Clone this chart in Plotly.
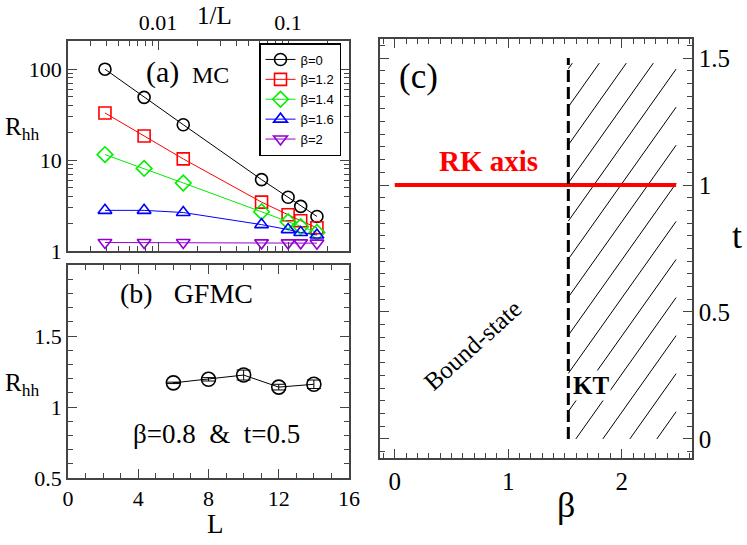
import numpy as np
import plotly.graph_objects as go

# panel (a): MC results, R_hh against 1/L for several beta
L_MC = [256, 128, 64, 16, 10, 8, 6]
BETA_NAMES = ['β=0', 'β=1.2', 'β=1.4', 'β=1.6', 'β=2']
R_BETA0 = [100, 49, 24.5, 6.1, 3.9, 3.1, 2.4]
R_BETA12 = [33, 18.4, 10.3, 3.45, 2.5, 2.15, 1.8]
R_BETA14 = [11.5, 8.1, 5.6, 2.7, 2.1, 1.85, 1.6]
R_BETA16 = [2.8, 2.8, 2.65, 1.95, 1.72, 1.6, 1.5]
R_BETA2 = [1.24, 1.24, 1.24, 1.23, 1.23, 1.23, 1.22]

# panel (b): GFMC at beta=0.8, t=0.5
L_GF = [6, 8, 10, 12, 14]
R_GF = [1.17, 1.195, 1.225, 1.14, 1.16]
R_GF_ERR = [0.005, 0.012, 0.035, 0.02, 0.03]

# panel (c): phase diagram
KT_BETA = 1.53          # KT transition line
KT_T = [0, 1.5]
RK_BETA = [0, 2.48]     # RK axis at t=1
RK_T = 1.0
# hatched KT region
HATCH_BETA_MAX = 2.48
HATCH_T_MAX = 1.48
HATCH_SLOPE = 0.63
HATCH_FIRST = 1.12
HATCH_STEP = 0.238

SERIF = 'Liberation Serif'
SANS = 'Liberation Sans'
FRAME = '#444444'

W, H = 747, 545

def fx(px):
  return px / W

def fy(px):
  return 1 - px / H

styles = [('black', 'circle-open'), ('red', 'square-open'), ('#00ee00', 'diamond-open'),
          ('blue', 'triangle-up-open'), ('#9400d3', 'triangle-down-open')]
series = [R_BETA0, R_BETA12, R_BETA14, R_BETA16, R_BETA2]

fig = go.Figure()

inv_L = 1.0 / np.array(L_MC, dtype=float)
for name, ys, (col, sym) in zip(BETA_NAMES, series, styles):
  fig.add_trace(go.Scatter(x=inv_L, y=ys, name=name, mode='lines+markers',
                           line=dict(color=col, width=1),
                           marker=dict(symbol=sym, size=12, color=col,
                                       line=dict(width=1.6, color=col)),
                           xaxis='x', yaxis='y'))

fig.add_trace(go.Scatter(x=L_GF, y=R_GF, mode='lines+markers', showlegend=False,
                         line=dict(color='black', width=1),
                         marker=dict(symbol='circle-open', size=14, color='black',
                                     line=dict(width=1.6, color='black')),
                         error_y=dict(type='data', array=R_GF_ERR, color='black',
                                      thickness=1, width=7),
                         xaxis='x2', yaxis='y2'))

# hatch lines t = m*(beta - b), clipped to the KT region
hx, hy = [], []
b = HATCH_FIRST - 8 * HATCH_STEP
while b < HATCH_BETA_MAX:
  b0 = max(KT_BETA, b)
  b1 = min(HATCH_BETA_MAX, b + HATCH_T_MAX / HATCH_SLOPE)
  if b1 > b0:
    hx += [b0, b1, None]
    hy += [HATCH_SLOPE * (b0 - b), HATCH_SLOPE * (b1 - b), None]
  b += HATCH_STEP
fig.add_trace(go.Scatter(x=hx, y=hy, mode='lines', showlegend=False,
                         line=dict(color='black', width=1), xaxis='x3', yaxis='y3'))

fig.add_trace(go.Scatter(x=RK_BETA, y=[RK_T, RK_T], mode='lines', showlegend=False,
                         line=dict(color='red', width=4), xaxis='x3', yaxis='y3'))
fig.add_trace(go.Scatter(x=[KT_BETA, KT_BETA], y=KT_T, mode='lines', showlegend=False,
                         line=dict(color='black', width=3, dash='12px,5px'),
                         xaxis='x3', yaxis='y3'))

tickfont = dict(family=SERIF, size=22, color='black')
bigtick = dict(family=SERIF, size=25, color='black')
common = dict(showline=True, linecolor=FRAME, linewidth=1.5, mirror='ticks',
              ticks='inside', tickcolor=FRAME, ticklen=9, tickwidth=1.2,
              showgrid=False, zeroline=False, tickfont=tickfont, automargin=False)

fig.update_layout(
  width=W, height=H,
  margin=dict(l=0, r=0, t=0, b=0),
  plot_bgcolor='white', paper_bgcolor='white',
  xaxis=dict(common, type='log', side='top', anchor='y', domain=[fx(68), fx(349)],
             range=[np.log10(0.00203), np.log10(0.294)],
             tickvals=[0.01, 0.1], ticktext=['0.01', '0.1'],
             minor=dict(ticks='inside', ticklen=5, tickcolor=FRAME, dtick='D1')),
  yaxis=dict(common, type='log', anchor='x', domain=[fy(251), fy(41)],
             range=[0, 2.31], tickvals=[1, 10, 100], ticktext=['1', '10', '100'],
             minor=dict(ticks='inside', ticklen=5, tickcolor=FRAME, dtick='D1')),
  xaxis2=dict(common, anchor='y2', domain=[fx(68), fx(349)], range=[0, 16],
              tickvals=[0, 4, 8, 12, 16],
              minor=dict(ticks='inside', ticklen=5, tickcolor=FRAME, dtick=1)),
  yaxis2=dict(common, anchor='x2', domain=[fy(478), fy(265)], range=[0.5, 2.0],
              tickvals=[0.5, 1, 1.5], ticktext=['0.5', '1', '1.5'],
              minor=dict(ticks='inside', ticklen=5, tickcolor=FRAME, dtick=0.1)),
  xaxis3=dict(common, anchor='y3', domain=[fx(380), fx(692)], range=[-0.13, 2.62],
              tickvals=[0, 1, 2], tickfont=bigtick,
              minor=dict(ticks='inside', ticklen=5, tickcolor=FRAME, dtick=0.1)),
  yaxis3=dict(common, anchor='x3', side='right', domain=[fy(458), fy(39)],
              range=[-0.075, 1.575], tickvals=[0, 0.5, 1, 1.5],
              ticktext=['0', '0.5', '1', '1.5'], tickfont=bigtick,
              minor=dict(ticks='inside', ticklen=5, tickcolor=FRAME, dtick=0.05)),
  legend=dict(x=fx(259), y=fy(43), xanchor='left', yanchor='top',
              bgcolor='white', bordercolor='black', borderwidth=1.5,
              font=dict(family=SANS, size=13, color='black'),
              tracegroupgap=0, itemwidth=30),
  showlegend=True,
)

def note(text, x, y, size, angle=0, color='black', family=SERIF, bg=None,
         xa='center', ya='middle'):
  fig.add_annotation(text=text, x=fx(x), y=fy(y), xref='paper', yref='paper',
                     xanchor=xa, yanchor=ya,
                     showarrow=False, textangle=angle, bgcolor=bg,
                     font=dict(family=family, size=size, color=color))

# axis titles
note('1/L', 214, 0, 25, ya='top')
note('L', 215, 524, 27)
note('R<sub>hh</sub>', 3, 128, 25, xa='left')
note('R<sub>hh</sub>', 3, 384, 25, xa='left')
note('β', 566, 505, 36)
note('t', 737, 236, 36)

# panel labels
note('(a)', 162, 72, 30)
note('MC', 210, 75, 24)
note('(b)   GFMC', 186, 293, 28)
note('β=0.8  &  t=0.5', 216, 434, 27)
note('(c)', 418, 76, 35)
note('<b>RK axis</b>', 488, 161, 29, color='red')
note('Bound-state', 472, 345, 25, angle=-42)
note('<b>KT</b>', 591, 385, 25, bg='white')

# drop the default page margin so the figure sits at the window corner
fig.write_html("out.html", config={'displayModeBar': False},
               post_script="document.body.style.margin = '0px';")
